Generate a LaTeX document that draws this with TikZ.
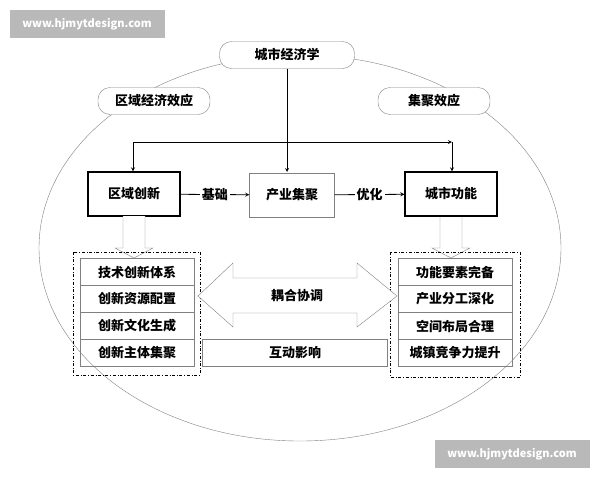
\documentclass[tikz,border=0pt]{standalone}
\usepackage{fontspec}
\setmainfont{Noto Sans CJK SC}
\usepackage{tikz}
\usetikzlibrary{positioning}
\newcommand{\cnfont}{\fontsize{13}{15}\selectfont\bfseries}
\tikzset{
  mark box/.style={fill=gray!55, text=white, minimum width=155pt, minimum height=28pt, inner sep=0, font=\fontsize{11}{13}\selectfont\bfseries},
  cloud box/.style={draw=gray, rounded corners=12pt, minimum height=27pt, inner sep=2pt, font=\cnfont},
  main box/.style={draw, very thick, minimum width=92pt, minimum height=44pt, font=\cnfont},
  item box/.style={draw=gray, minimum width=114pt, minimum height=27pt, inner sep=0, font=\cnfont},
  group box/.style={draw, dash dot, thick},
}
\begin{document}
\begin{tikzpicture}[x=1pt,y=-1pt]
  \useasboundingbox (0,0) rectangle (600,480);
  \draw[gray] (300,248) ellipse [x radius=261, y radius=193];
  \node[mark box] (M1) at (87,24) {www.hjmytdesign.com};
  \node[mark box] (M2) at (512,454) {www.hjmytdesign.com};

  \begin{scope}[every node/.style={cloud box, fill=white}]
    \node[minimum width=135pt] (T) at (287,55) {城市经济学};
    \node[minimum width=112pt] (L) at (154,101) {区域经济效应};
    \node[minimum width=112pt] (R) at (434,101) {集聚效应};
  \end{scope}

  \node[main box, fill=white] (A) at (134,194) {区域创新};
  \node[main box, draw=gray, thin, minimum width=85pt, fill=white] (B) at (292,195) {产业集聚};
  \node[main box, fill=white] (C) at (451,194) {城市功能};

  \begin{scope}[every path/.style={thick, ->, >=stealth}]
    \draw (T.south -| 287,0) -- (287,172);
    \draw (133,142) -- (452,142);
    \draw (133,142) -- (A.north -| 133,0);
    \draw (452,142) -- (C.north -| 452,0);
    \draw (A) -- node[fill=white, inner sep=2pt, font=\cnfont] {基础} (B);
    \draw (B) -- node[fill=white, inner sep=2pt, font=\cnfont] {优化} (C);
  \end{scope}

  % hollow arrows
  \draw[gray, fill=white] (123,216) -- (123,248) -- (115,248) -- (134,258) -- (153,248) -- (145,248) -- (145,216);
  \draw[gray, fill=white] (440,217) -- (440,248) -- (432,248) -- (451,258) -- (470,248) -- (462,248) -- (462,217);

  \draw[group box] (73,252) rectangle (200,375);
  \draw[group box] (390,252) rectangle (520,377);

  \foreach \t [count=\i] in {技术创新体系,创新资源配置,创新文化生成,创新主体集聚}
    \node[item box] (P\i) at (137,245+27*\i) {\t};
  \foreach \t [count=\i] in {功能要素完备,产业分工深化,空间布局合理,城镇竞争力提升}
    \node[item box] (Q\i) at (455,245+27*\i) {\t};

  \draw[gray, fill=white] (198,296) -- (233,263) -- (233,278) -- (357,278) -- (357,263)
    -- (397,296) -- (357,327) -- (357,313) -- (233,313) -- (233,327) -- cycle;
  \node[font=\cnfont] (H) at (297,296) {耦合协调};
  \node[item box, minimum width=185pt] (I) at (295,353) {互动影响};
\end{tikzpicture}
\end{document}
